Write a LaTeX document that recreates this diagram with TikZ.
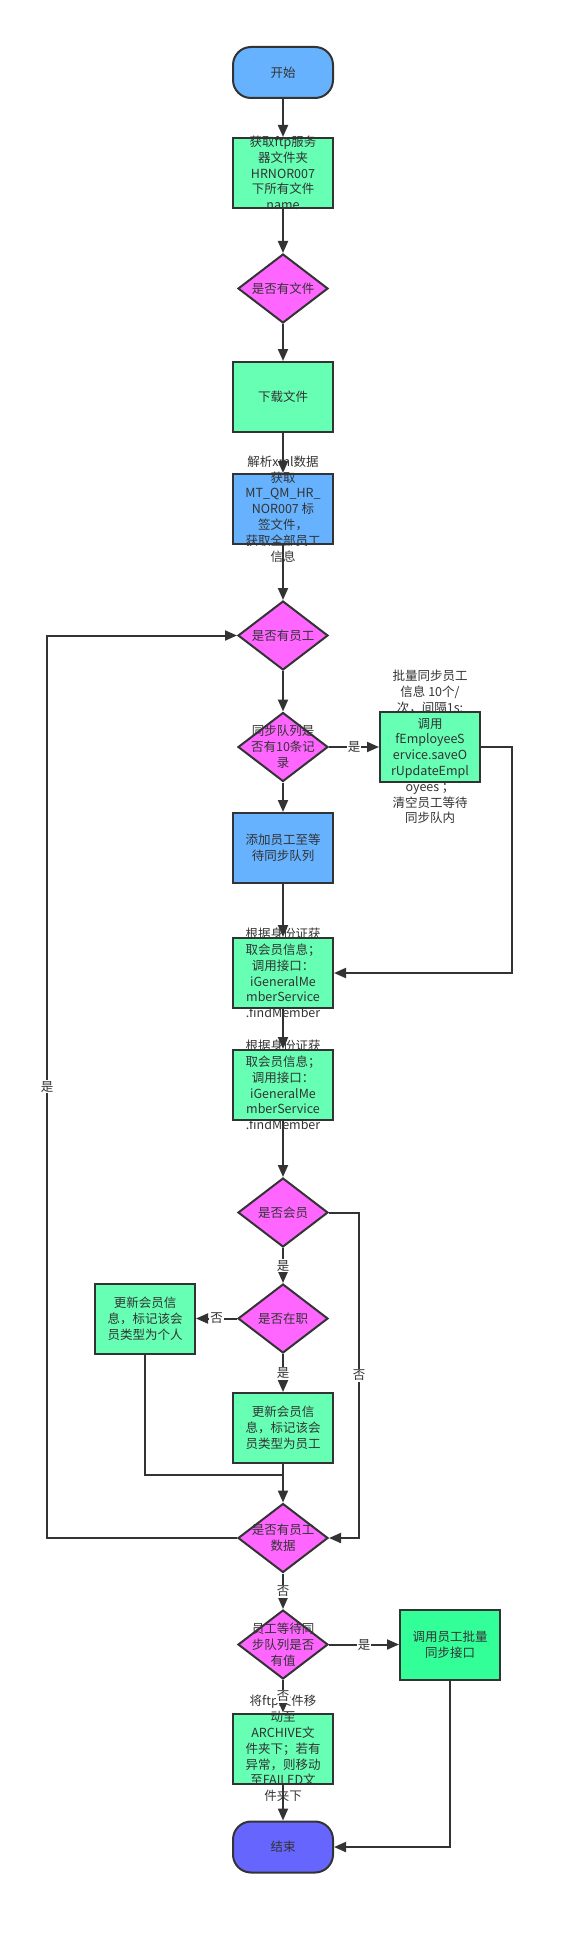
\documentclass[tikz,border=0pt]{standalone}
\usepackage{fontspec}
\setmainfont{Noto Sans CJK SC}
\usetikzlibrary{arrows.meta,shapes.geometric}

\definecolor{lineclr}{HTML}{333333}
\definecolor{termblue}{HTML}{66B2FF}
\definecolor{procgreen}{HTML}{66FFB3}
\definecolor{decpink}{HTML}{FF66FF}
\definecolor{callgreen}{HTML}{33FF99}
\definecolor{endblue}{HTML}{6666FF}

\tikzset{
  txt/.style={font=\fontsize{12.5}{15.8}\selectfont, text=lineclr, align=center, inner sep=0pt},
  term/.style={rectangle, rounded corners=18pt, draw=lineclr, line width=2pt, minimum width=100pt, minimum height=51pt, fill=termblue},
  proc/.style={rectangle, draw=lineclr, line width=2pt, minimum width=100pt, minimum height=70pt, fill=procgreen},
  dec/.style={diamond, draw=lineclr, line width=2pt, minimum width=90pt, minimum height=69pt, inner sep=0pt, fill=decpink},
  lbl/.style={txt, fill=white, inner sep=1pt},
}

\begin{document}
\begin{tikzpicture}[x=1pt, y=-1pt, >={Triangle[length=12pt, width=10pt]}, line width=2pt, color=lineclr, node distance=110pt]
    \useasboundingbox (0,0) rectangle (571,1934);

    % Nodes {start, getname, hasfile, ...}
    \node [term, label={[txt]center:开始}]                                   (start)     at (283,72.5) {};
    \node [proc, label={[txt]center:{获取ftp服务\\器文件夹\\HRNOR007\\下所有文件\\name}}]
                                                                (getname)   [below of=start, node distance=100.5pt] {};
    \node [dec, label={[txt]center:是否有文件}]                              (hasfile)   [below of=getname, node distance=115.5pt] {};
    \node [proc, label={[txt]center:下载文件}]                               (download)  [below of=hasfile, node distance=108.5pt] {};
    \node [proc, fill=termblue, label={[txt]center:{解析xml数据\\获取\\MT\_QM\_HR\_\\NOR007 标\\签文件，\\获取全部员工\\信息}}]
                                                                (parse)     [below of=download, node distance=112pt] {};
    \node [dec, label={[txt]center:是否有员工}]                              (hasemp)    [below of=parse, node distance=126.5pt] {};
    \node [dec, label={[txt]center:{同步队列是\\否有10条记\\录}}]            (queue10)   [below of=hasemp, node distance=111.5pt] {};
    \node [proc, label={[txt]center:{批量同步员工\\信息 10个/\\次，间隔1s:\\调用\\fEmployeeS\\ervice.saveO\\rUpdateEmpl\\oyees ；\\清空员工等待\\同步队内}}]
                                                                (batchsave) [right of=queue10, node distance=147pt] {};
    \node [proc, fill=termblue, label={[txt]center:{添加员工至等\\待同步队列}}]
                                                                (addqueue)  [below of=queue10, node distance=101pt] {};
    \node [proc, label={[txt]center:{根据身份证获\\取会员信息；\\调用接口：\\iGeneralMe\\mberService\\.findMember}}]
                                                                (findmem)   [below of=addqueue, node distance=125pt] {};
    \node [proc, label={[txt]center:{根据身份证获\\取会员信息；\\调用接口：\\iGeneralMe\\mberService\\.findMember}}]
                                                                (findmem2)  [below of=findmem, node distance=112pt] {};
    \node [dec, label={[txt]center:是否会员}]                                (ismember)  [below of=findmem2, node distance=127.5pt] {};
    \node [dec, label={[txt]center:是否在职}]                                (onjob)     [below of=ismember, node distance=106pt] {};
    \node [proc, label={[txt]center:{更新会员信\\息，标记该会\\员类型为个人}}]
                                                                (setperson) [left of=onjob, node distance=138pt] {};
    \node [proc, label={[txt]center:{更新会员信\\息，标记该会\\员类型为员工}}]
                                                                (setemp)    [below of=onjob, node distance=109.5pt] {};
    \node [dec, label={[txt]center:{是否有员工\\数据}}]                      (hasdata)   [below of=setemp, node distance=110pt] {};
    \node [dec, label={[txt]center:{员工等待同\\步队列是否\\有值}}]          (queueval)  [below of=hasdata, node distance=106.5pt] {};
    \node [proc, fill=callgreen, label={[txt]center:{调用员工批量\\同步接口}}]
                                                                (callbatch) [right of=queueval, node distance=167pt] {};
    \node [proc, label={[txt]center:{将ftp文件移\\动至\\ARCHIVE文\\件夹下；若有\\异常，则移动\\至FAILED文\\件夹下}}]
                                                                (movefile)  [below of=queueval, node distance=104pt] {};
    \node [term, fill=endblue, label={[txt]center:结束}]                     (stop)      [below of=movefile, node distance=98.5pt] {};

    % Paths
    \path [->] (start)     edge                    (getname);
    \path [->] (getname)   edge                    (hasfile);
    \path [->] (hasfile)   edge                    (download);
    \path [->] (download)  edge                    (parse);
    \path [->] (parse)     edge                    (hasemp);
    \path [->] (hasemp)    edge                    (queue10);
    \path [->] (queue10)   edge node [lbl] {是}    (batchsave);
    \path [->] (queue10)   edge                    (addqueue);
    \path [->] (addqueue)  edge                    (findmem);
    \path [->] (findmem)   edge                    (findmem2);
    \path [->] (findmem2)  edge                    (ismember);
    \path [->] (ismember)  edge node [lbl] {是}    (onjob);
    \path [->] (onjob)     edge node [lbl] {否}    (setperson);
    \path [->] (onjob)     edge node [lbl] {是}    (setemp);
    \path [->] (setemp)    edge                    (hasdata);
    \path [->] (hasdata)   edge node [lbl] {否}    (queueval);
    \path [->] (queueval)  edge node [lbl] {是}    (callbatch);
    \path [->] (queueval)  edge node [lbl] {否}    (movefile);
    \path [->] (movefile)  edge                    (stop);

    % Bent lines
    \draw [->] (batchsave.east) -- ++(31,0) |- (findmem.east);
    \draw      (setperson.south) -- ++(0,120) -| (setemp.south);
    \draw [->] (ismember.east) -- ++(30,0) |- node [lbl, pos=0.25] {否} (hasdata.east);
    \draw [->] (hasdata.west) -- ++(-190,0) |- node [lbl, pos=0.25] {是} (hasemp.west);
    \draw [->] (callbatch.south) |- (stop.east);

\end{tikzpicture}
\end{document}
